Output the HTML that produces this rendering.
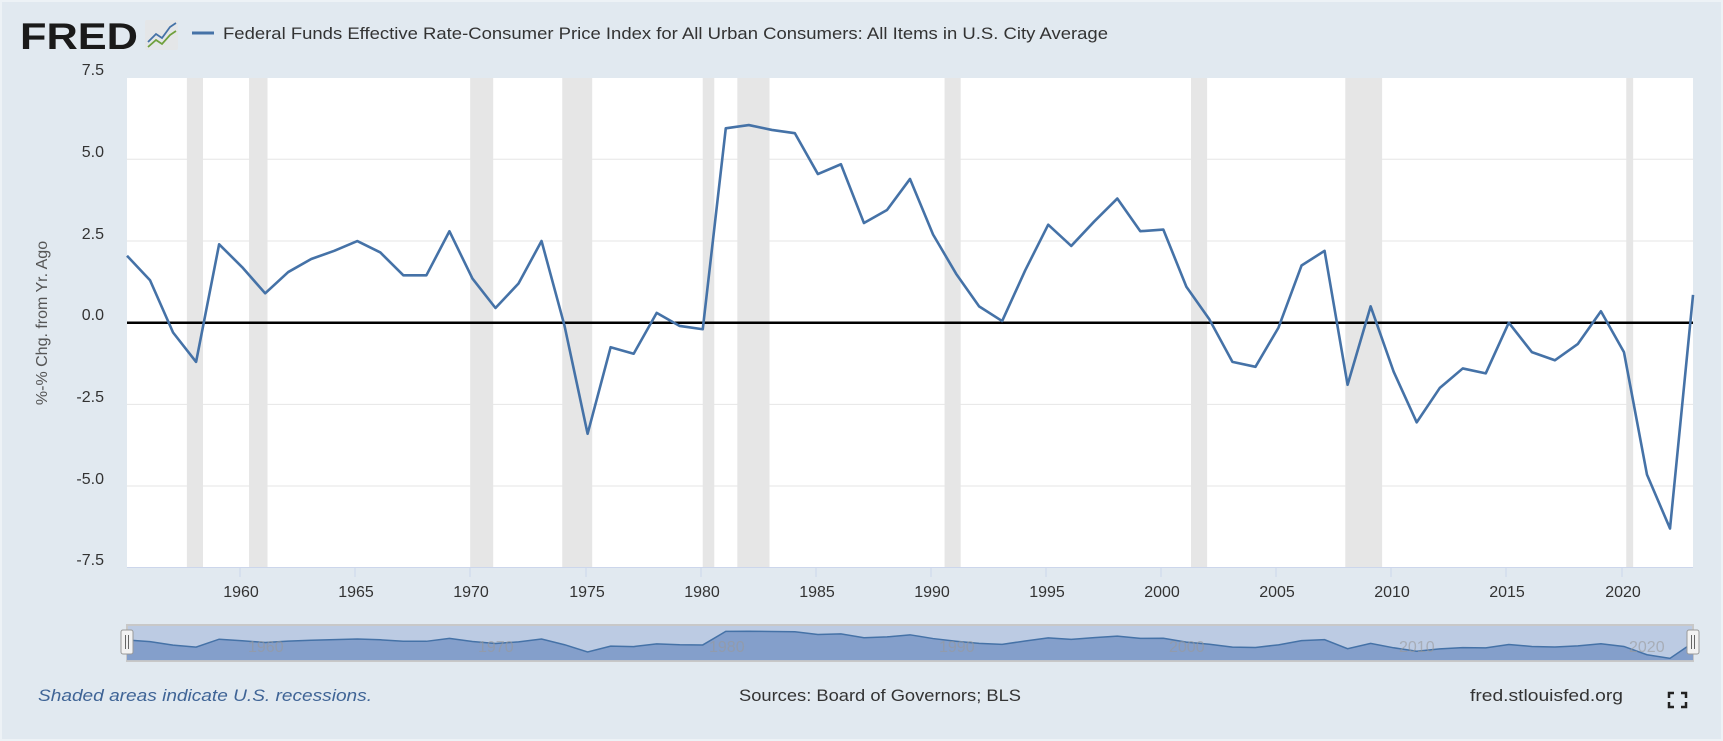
<!DOCTYPE html>
<html><head><meta charset="utf-8"><style>
html,body{margin:0;padding:0;background:#e1e9f0;}
svg{display:block;font-family:"Liberation Sans",sans-serif;}
</style></head><body>
<svg width="1723" height="741" viewBox="0 0 1723 741" xmlns="http://www.w3.org/2000/svg">
<rect x="0" y="0" width="1723" height="741" fill="#e1e9f0"/>
<rect x="0.5" y="0.5" width="1722" height="740" fill="none" stroke="#edf2f6" stroke-width="3"/>
<!-- logo -->
<text x="20" y="49" font-size="37" font-weight="bold" fill="#1a1a1a" textLength="118" lengthAdjust="spacingAndGlyphs">FRED</text>
<rect x="145" y="20" width="33" height="30" fill="#e4e6e8" rx="2"/>
<polyline points="148,42 156,34 162,38 170,27 176,23" fill="none" stroke="#4572a7" stroke-width="1.8"/>
<polyline points="148,47 156,40 162,44 170,35 176,31" fill="none" stroke="#70a03c" stroke-width="1.8"/>
<!-- legend -->
<line x1="192" y1="33" x2="214" y2="33" stroke="#4572a7" stroke-width="3"/>
<text x="223" y="39" font-size="17" fill="#333" textLength="885" lengthAdjust="spacingAndGlyphs">Federal Funds Effective Rate-Consumer Price Index for All Urban Consumers: All Items in U.S. City Average</text>
<!-- plot -->
<rect x="127" y="78" width="1566" height="489" fill="#fff"/>
<g transform="translate(127,0) scale(23.03,1)" fill="#e6e6e6">
<rect x="2.6" y="78" width="0.7" height="489"/>
<rect x="5.3" y="78" width="0.8" height="489"/>
<rect x="14.9" y="78" width="1.0" height="489"/>
<rect x="18.9" y="78" width="1.3" height="489"/>
<rect x="25.0" y="78" width="0.5" height="489"/>
<rect x="26.5" y="78" width="1.4" height="489"/>
<rect x="35.5" y="78" width="0.7" height="489"/>
<rect x="46.2" y="78" width="0.7" height="489"/>
<rect x="52.9" y="78" width="1.6" height="489"/>
<rect x="65.1" y="78" width="0.3" height="489"/>
</g>
<g stroke="#e6e6e6" stroke-width="1">
<line x1="127" y1="159.3" x2="1693" y2="159.3"/>
<line x1="127" y1="241" x2="1693" y2="241"/>
<line x1="127" y1="404.4" x2="1693" y2="404.4"/>
<line x1="127" y1="486" x2="1693" y2="486"/>
</g>
<line x1="127" y1="567.5" x2="1693" y2="567.5" stroke="#ccd6eb"/>
<g stroke="#ccd6eb">
<line x1="240" y1="567" x2="240" y2="577"/><line x1="355" y1="567" x2="355" y2="577"/><line x1="470" y1="567" x2="470" y2="577"/><line x1="586" y1="567" x2="586" y2="577"/><line x1="701" y1="567" x2="701" y2="577"/><line x1="816" y1="567" x2="816" y2="577"/><line x1="931" y1="567" x2="931" y2="577"/><line x1="1046" y1="567" x2="1046" y2="577"/><line x1="1161" y1="567" x2="1161" y2="577"/><line x1="1276" y1="567" x2="1276" y2="577"/><line x1="1391" y1="567" x2="1391" y2="577"/><line x1="1506" y1="567" x2="1506" y2="577"/><line x1="1622" y1="567" x2="1622" y2="577"/>
</g>
<line x1="127" y1="322.7" x2="1693" y2="322.7" stroke="#000" stroke-width="2.5"/>
<g transform="translate(127,322.7) scale(23.03,-32.67)">
<polyline vector-effect="non-scaling-stroke" fill="none" stroke="#4572a7" stroke-width="2.6" stroke-linejoin="round" points="0,2.05 1,1.3 2,-0.3 3,-1.2 4,2.4 5,1.7 6,0.9 7,1.55 8,1.95 9,2.2 10,2.5 11,2.15 12,1.45 13,1.45 14,2.8 15,1.35 16,0.45 17,1.2 18,2.5 19,-0.1 20,-3.4 21,-0.75 22,-0.95 23,0.3 24,-0.1 25,-0.2 26,5.95 27,6.05 28,5.9 29,5.8 30,4.55 31,4.85 32,3.05 33,3.45 34,4.4 35,2.7 36,1.5 37,0.5 38,0.05 39,1.6 40,3.0 41,2.35 42,3.1 43,3.8 44,2.8 45,2.85 46,1.1 47,0.1 48,-1.2 49,-1.35 50,-0.15 51,1.75 52,2.2 53,-1.9 54,0.5 55,-1.5 56,-3.05 57,-2.0 58,-1.4 59,-1.55 60,0.0 61,-0.9 62,-1.15 63,-0.65 64,0.35 65,-0.9 66,-4.65 67,-6.3 68,0.85"/>
</g>
<!-- y labels -->
<g font-size="16" fill="#333" text-anchor="end">
<text x="104" y="75">7.5</text><text x="104" y="157">5.0</text><text x="104" y="239">2.5</text><text x="104" y="320">0.0</text><text x="104" y="402">-2.5</text><text x="104" y="484">-5.0</text><text x="104" y="565">-7.5</text>
</g>
<text transform="translate(47,323) rotate(-90)" font-size="16" fill="#555" text-anchor="middle">%-% Chg. from Yr. Ago</text>
<!-- x labels -->
<g font-size="16" fill="#333" text-anchor="middle">
<text x="241" y="597">1960</text><text x="356" y="597">1965</text><text x="471" y="597">1970</text><text x="587" y="597">1975</text><text x="702" y="597">1980</text><text x="817" y="597">1985</text><text x="932" y="597">1990</text><text x="1047" y="597">1995</text><text x="1162" y="597">2000</text><text x="1277" y="597">2005</text><text x="1392" y="597">2010</text><text x="1507" y="597">2015</text><text x="1623" y="597">2020</text>
</g>
<!-- navigator -->
<rect x="127" y="625" width="1566" height="36" fill="#bccbe3" stroke="#c8c8c8" stroke-width="2"/>
<g transform="translate(127,644.5) scale(23.03,-2.2)">
<polygon fill="#849fcb" points="0,2.05 1,1.3 2,-0.3 3,-1.2 4,2.4 5,1.7 6,0.9 7,1.55 8,1.95 9,2.2 10,2.5 11,2.15 12,1.45 13,1.45 14,2.8 15,1.35 16,0.45 17,1.2 18,2.5 19,-0.1 20,-3.4 21,-0.75 22,-0.95 23,0.3 24,-0.1 25,-0.2 26,5.95 27,6.05 28,5.9 29,5.8 30,4.55 31,4.85 32,3.05 33,3.45 34,4.4 35,2.7 36,1.5 37,0.5 38,0.05 39,1.6 40,3.0 41,2.35 42,3.1 43,3.8 44,2.8 45,2.85 46,1.1 47,0.1 48,-1.2 49,-1.35 50,-0.15 51,1.75 52,2.2 53,-1.9 54,0.5 55,-1.5 56,-3.05 57,-2.0 58,-1.4 59,-1.55 60,0.0 61,-0.9 62,-1.15 63,-0.65 64,0.35 65,-0.9 66,-4.65 67,-6.3 68,0.85 68,-7.1 0,-7.1"/>
<polyline vector-effect="non-scaling-stroke" fill="none" stroke="#4572a7" stroke-width="1.5" points="0,2.05 1,1.3 2,-0.3 3,-1.2 4,2.4 5,1.7 6,0.9 7,1.55 8,1.95 9,2.2 10,2.5 11,2.15 12,1.45 13,1.45 14,2.8 15,1.35 16,0.45 17,1.2 18,2.5 19,-0.1 20,-3.4 21,-0.75 22,-0.95 23,0.3 24,-0.1 25,-0.2 26,5.95 27,6.05 28,5.9 29,5.8 30,4.55 31,4.85 32,3.05 33,3.45 34,4.4 35,2.7 36,1.5 37,0.5 38,0.05 39,1.6 40,3.0 41,2.35 42,3.1 43,3.8 44,2.8 45,2.85 46,1.1 47,0.1 48,-1.2 49,-1.35 50,-0.15 51,1.75 52,2.2 53,-1.9 54,0.5 55,-1.5 56,-3.05 57,-2.0 58,-1.4 59,-1.55 60,0.0 61,-0.9 62,-1.15 63,-0.65 64,0.35 65,-0.9 66,-4.65 67,-6.3 68,0.85"/>
</g>
<g font-size="16" fill="#999" fill-opacity="0.6">
<text x="248" y="652">1960</text><text x="478" y="652">1970</text><text x="709" y="652">1980</text><text x="939" y="652">1990</text><text x="1169" y="652">2000</text><text x="1399" y="652">2010</text><text x="1629" y="652">2020</text>
</g>
<rect x="121" y="630" width="12" height="24" fill="#f2f2f2" stroke="#999" rx="2"/>
<line x1="125.5" y1="635" x2="125.5" y2="649" stroke="#666"/><line x1="128.5" y1="635" x2="128.5" y2="649" stroke="#666"/>
<rect x="1687" y="630" width="12" height="24" fill="#f2f2f2" stroke="#999" rx="2"/>
<line x1="1691.5" y1="635" x2="1691.5" y2="649" stroke="#666"/><line x1="1694.5" y1="635" x2="1694.5" y2="649" stroke="#666"/>
<!-- footer -->
<text x="38" y="701" font-size="17" font-style="italic" fill="#3f6496" textLength="334" lengthAdjust="spacingAndGlyphs">Shaded areas indicate U.S. recessions.</text>
<text x="739" y="701" font-size="17" fill="#333" textLength="282" lengthAdjust="spacingAndGlyphs">Sources: Board of Governors; BLS</text>
<text x="1470" y="701" font-size="17" fill="#333" textLength="153" lengthAdjust="spacingAndGlyphs">fred.stlouisfed.org</text>
<g stroke="#222" stroke-width="2.5" fill="none">
<path d="M1669,698 v-5 h5"/><path d="M1681,693 h5 v5"/><path d="M1669,702 v5 h5"/><path d="M1681,707 h5 v-5"/>
</g>
</svg>
</body></html>
